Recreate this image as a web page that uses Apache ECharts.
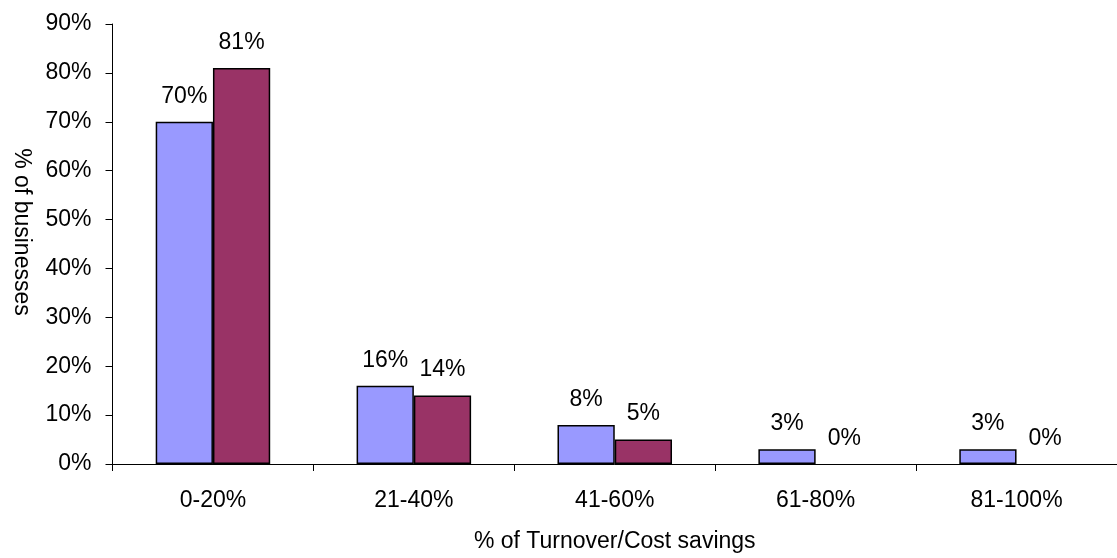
<!DOCTYPE html>
<html>
<head>
<meta charset="utf-8">
<script src="https://cdn.jsdelivr.net/npm/echarts@6/dist/echarts.min.js"></script>
<style>
  html, body { margin: 0; padding: 0; background: #fff; overflow: hidden; }
  #chart { width: 1117px; height: 558px; }
</style>
</head>
<body>
<div id="chart"></div>
<script>
// Share of businesses by turnover / cost-savings band
const categories = ['0-20%', '21-40%', '41-60%', '61-80%', '81-100%'];
const seriesA = [70, 16, 8, 3, 3];
const seriesB = [81, 14, 5, 0, 0];
const yTicks = { min: 0, max: 90, interval: 10 };

const font = 'Liberation Sans, Arial, sans-serif';
const txt = { color: '#000', fontFamily: font, fontSize: 23 };

const chart = echarts.init(document.getElementById('chart'));

// zero-height bars carry only their value label, no outline
function toItems(values) {
  return values.map(v => v === 0
    ? { value: v, itemStyle: { borderWidth: 0 } }
    : v);
}

function barSeries(values, color) {
  return {
    type: 'bar',
    data: toItems(values),
    barWidth: '28.5%',
    barGap: '0%',
    itemStyle: { color: color, borderColor: '#000', borderWidth: 1.5 },
    label: {
      show: true,
      position: 'top',
      distance: 14,
      formatter: '{c}%',
      ...txt
    }
  };
}

chart.setOption({
  animation: false,
  // plot area runs slightly past the right edge of the canvas
  grid: { left: 112.5, top: 24, width: 1016.5, bottom: 89, containLabel: false },
  xAxis: {
    type: 'category',
    data: categories,
    name: '% of Turnover/Cost savings',
    nameLocation: 'middle',
    nameGap: 66,
    nameTextStyle: txt,
    axisLine: { lineStyle: { color: '#000', width: 1 } },
    axisTick: { show: true, alignWithLabel: false, length: 7, lineStyle: { color: '#000' } },
    axisLabel: { ...txt, margin: 25 },
    splitLine: { show: false }
  },
  yAxis: {
    type: 'value',
    min: yTicks.min,
    max: yTicks.max,
    interval: yTicks.interval,
    name: '% of businesses',
    nameLocation: 'middle',
    nameGap: 80,
    nameRotate: -90,
    nameTextStyle: { ...txt, padding: [0, 24, 0, 0] },
    axisLine: { show: true, lineStyle: { color: '#000', width: 1 } },
    axisTick: { show: true, length: 7, lineStyle: { color: '#000' } },
    axisLabel: { ...txt, margin: 21, formatter: '{value}%' },
    splitLine: { show: false }
  },
  series: [
    barSeries(seriesA, '#9999FF'),
    barSeries(seriesB, '#993366')
  ]
});
</script>
</body>
</html>
